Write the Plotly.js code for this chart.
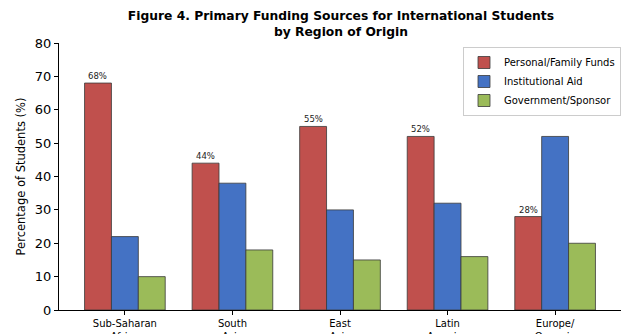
<!DOCTYPE html>
<html>
<head>
<meta charset="utf-8">
<script src="https://cdn.plot.ly/plotly-3.0.1.min.js"></script>
<style>html,body{margin:0;padding:0;background:#fff;}#chart{width:621px;height:334px;}</style>
</head>
<body>
<div id="chart"></div>
<script>
const regions = ["Sub-Saharan<br>Africa", "South<br>Asia", "East<br>Asia", "Latin<br>America", "Europe/<br>Oceania"];
const personalFamily = [68, 44, 55, 52, 28];
const institutionalAid = [22, 38, 30, 32, 52];
const governmentSponsor = [10, 18, 15, 16, 20];
const seriesNames = ["Personal/Family Funds", "Institutional Aid", "Government/Sponsor"];
const colors = ["#c0504d", "#4472c4", "#9bbb59"];

const font = "DejaVu Sans, Liberation Sans, sans-serif";
const idx = regions.map((_, i) => i);

const traces = [personalFamily, institutionalAid, governmentSponsor].map((vals, k) => ({
  type: "bar",
  name: seriesNames[k],
  x: idx,
  y: vals,
  width: 0.25,
  offset: -0.375 + k * 0.25,
  marker: {color: colors[k], line: {color: "#3a3a3a", width: 0.8}},
  hoverinfo: "none"
}));

const labelAnnotations = personalFamily.map((v, i) => ({
  x: i - 0.25, y: v, xref: "x", yref: "y",
  text: v + "%", showarrow: false,
  xanchor: "center", yanchor: "bottom", yshift: 0,
  font: {family: font, size: 8.5, color: "#222"}
}));

const layout = {
  width: 621, height: 334,
  margin: {l: 59, r: 0, t: 43, b: 24},
  paper_bgcolor: "#fff", plot_bgcolor: "#fff",
  font: {family: font, color: "#000"},
  showlegend: true,
  bargap: 0, barmode: "overlay",
  title: {
    text: "<b>Figure 4. Primary Funding Sources for International Students<br>by Region of Origin</b>",
    font: {family: font, size: 12.3, color: "#000"},
    x: 0.549, xanchor: "center",
    yref: "container", y: 0.94, yanchor: "middle"
  },
  xaxis: {
    range: [-0.6125, 4.6125],
    tickmode: "array", tickvals: idx, ticktext: regions,
    ticks: "outside", ticklen: 4, tickcolor: "#000",
    tickfont: {family: font, size: 10, color: "#000"},
    showgrid: false, zeroline: false,
    showline: true, linecolor: "#000", linewidth: 1
  },
  yaxis: {
    range: [0, 80], dtick: 10,
    ticks: "outside", ticklen: 4, tickcolor: "#000",
    tickfont: {family: font, size: 13, color: "#000"},
    showgrid: false, zeroline: false,
    showline: true, linecolor: "#000", linewidth: 1,
    title: {text: "Percentage of Students (%)", font: {family: font, size: 11.5, color: "#000"}, standoff: 6}
  },
  annotations: labelAnnotations,
  legend: {
    x: 1.0, xanchor: "right", y: 0.985, yanchor: "top",
    bgcolor: "#fff", bordercolor: "#cccccc", borderwidth: 1,
    font: {family: font, size: 10, color: "#000"},
    tracegroupgap: 0, itemwidth: 30
  }
};

Plotly.newPlot("chart", traces, layout, {staticPlot: true, displayModeBar: false});
</script>
</body>
</html>
